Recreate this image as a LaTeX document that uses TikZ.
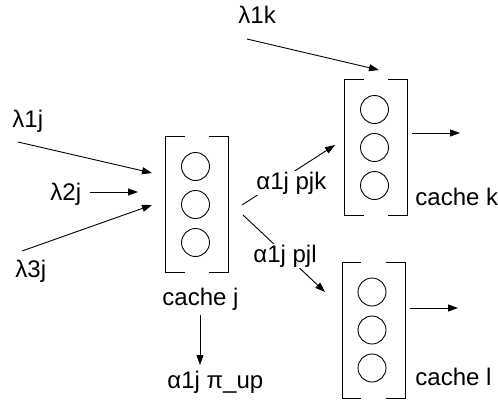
\documentclass[tikz,border=0pt]{standalone}
\usepackage{fontspec}
\setmainfont{Liberation Sans}
\usetikzlibrary{arrows.meta}

\tikzset{
  cache/.style={minimum width=62pt,minimum height=135pt,inner sep=0pt},
  ball/.style={circle,draw,line width=0.9pt,minimum size=28pt,inner sep=0pt},
  lbl/.style={anchor=base west,inner sep=0pt,font=\fontsize{24}{28}\selectfont},
  flow/.style={line width=0.9pt,-{Triangle[length=10pt,width=7pt]}},
}

\begin{document}
\begin{tikzpicture}[x=1pt,y=-1pt,line width=0.9pt]
  \useasboundingbox (0,0) rectangle (498,407);
  % caches
  \node[cache] (cj) at (197,204.5) {};
  \node[cache] (ck) at (376,147.5) {};
  \node[cache] (cl) at (373.5,330) {};
  \foreach \c in {cj,ck,cl} {
    \draw ([xshift=19pt]\c.north west) -- (\c.north west) -- (\c.south west) -- ([xshift=19pt]\c.south west);
    \draw ([xshift=-19pt]\c.north east) -- (\c.north east) -- (\c.south east) -- ([xshift=-19pt]\c.south east);
    \foreach \dy [count=\i] in {-38,0,38}
      \node[ball] (\c-\i) at ([shift={(-1.5,\dy)}]\c.center) {};
  }
  % labels
  \node[lbl] (l1j) at (12,127) {λ1j};
  \node[lbl] (l2j) at (50,200) {λ2j};
  \node[lbl] (l3j) at (15,277) {λ3j};
  \node[lbl] (l1k) at (238,23) {λ1k};
  \node[lbl] (tj) at (162,305) {cache j};
  \node[lbl] (tk) at (415,205) {cache k};
  \node[lbl] (tl) at (415,385) {cache l};
  \node[lbl] (up) at (167,388) {α1j π\_up};
  % arrow ends
  \coordinate (a1) at (18,142);   \coordinate (b1) at (152,173);
  \coordinate (a2) at (90,192);   \coordinate (b2) at (138,192);
  \coordinate (a3) at (22,251);   \coordinate (b3) at (152,205);
  \coordinate (a4) at (247,39);   \coordinate (b4) at (379,70);
  \coordinate (jk) at (242,205);  \coordinate (kin) at (335,145);
  \coordinate (jl) at (243,215);  \coordinate (lin) at (325,292);
  \coordinate (ko) at (412,133);  \coordinate (kout) at (460,133);
  \coordinate (lo) at (410,308);  \coordinate (lout) at (458,308);
  \coordinate (dn) at (200,315);  \coordinate (dnend) at (200,365);
  \draw[flow] (a1) -- (b1);
  \draw[flow] (a2) -- (b2);
  \draw[flow] (a3) -- (b3);
  \draw[flow] (a4) -- (b4);
  \draw[flow] (ko) -- (kout);
  \draw[flow] (lo) -- (lout);
  \draw[flow] (dn) -- (dnend);
  \draw[flow] (jk) -- (kin);
  \draw[flow] (jl) -- (lin);
  \node[lbl,fill=white,inner sep=1pt] (pjk) at (255,189) {α1j pjk};
  \node[lbl,fill=white,inner sep=1pt] (pjl) at (252,262) {α1j pjl};
\end{tikzpicture}
\end{document}
